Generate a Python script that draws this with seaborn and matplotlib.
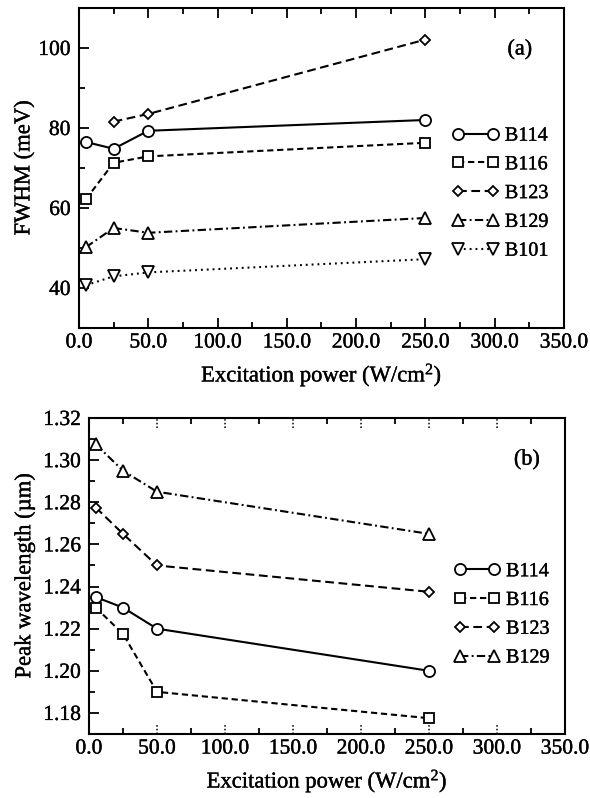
import numpy as np
import pandas as pd
import matplotlib
matplotlib.use("Agg")
import matplotlib.pyplot as plt
import matplotlib.transforms as mtransforms
import matplotlib.patheffects as pe
from matplotlib.ticker import MultipleLocator, FormatStrFormatter
import seaborn as sns

# ---- data ----
power = [5, 25, 50, 250]
power_b123_a = [25, 50, 250]

samples_a = ["B114", "B116", "B123", "B129", "B101"]
fwhm_b114 = [76.5, 74.8, 79.3, 82.0]
fwhm_b116 = [62.2, 71.3, 72.9, 76.3]
fwhm_b123 = [81.6, 83.5, 102.1]
fwhm_b129 = [50.2, 55.0, 53.8, 57.5]
fwhm_b101 = [40.7, 42.9, 43.9, 47.2]

samples_b = ["B114", "B116", "B123", "B129"]
peak_b114 = [1.235, 1.230, 1.220, 1.200]
peak_b116 = [1.230, 1.2175, 1.190, 1.1775]
peak_b123 = [1.2775, 1.265, 1.250, 1.2375]
peak_b129 = [1.3075, 1.295, 1.285, 1.265]

# ---- styles ----
markers = {"B114": "o", "B116": "s", "B123": "D", "B129": "^", "B101": "v"}
marker_sizes = {"B114": 8, "B116": 6.5, "B123": 4.6, "B129": 8, "B101": 8}
dashes = {"B114": "", "B116": (3.0, 1.8), "B123": (4.2, 2.2),
          "B129": (4.0, 1.6, 0.9, 1.6), "B101": (0.9, 1.9)}


def long_frame(series):
    rows = []
    for name, xs, ys in series:
        for x, y in zip(xs, ys):
            rows.append({"sample": name, "power": x, "value": y})
    return pd.DataFrame(rows)


df_a = long_frame([
    ("B114", power, fwhm_b114),
    ("B116", power, fwhm_b116),
    ("B123", power_b123_a, fwhm_b123),
    ("B129", power, fwhm_b129),
    ("B101", power, fwhm_b101),
])
df_b = long_frame([
    ("B114", power, peak_b114),
    ("B116", power, peak_b116),
    ("B123", power, peak_b123),
    ("B129", power, peak_b129),
])

sns.set_theme(style="ticks")
plt.rcParams["font.family"] = ["Liberation Serif", "DejaVu Serif"]
plt.rcParams["mathtext.fontset"] = "custom"
plt.rcParams["mathtext.rm"] = "Liberation Serif"
plt.rcParams["mathtext.it"] = "Liberation Serif:italic"
plt.rcParams["axes.linewidth"] = 1.5
plt.rcParams["axes.edgecolor"] = "black"
plt.rcParams["text.color"] = "black"
plt.rcParams["axes.labelcolor"] = "black"
plt.rcParams["xtick.color"] = "black"
plt.rcParams["ytick.color"] = "black"

FS_TICK = 15.5
FS_LABEL = 16.3
FS_LEG = 14.5
FS_PANEL = 16
LW = 1.5
fig = plt.figure(figsize=(5.9, 7.98), dpi=100)
ax_a = fig.add_axes([0.1339, 0.589, 0.822, 0.401])
ax_b = fig.add_axes([0.1508, 0.0802, 0.8068, 0.396])


def draw_panel(ax, df, order):
    sns.lineplot(data=df, x="power", y="value", style="sample",
                 style_order=order, markers={k: markers[k] for k in order},
                 dashes={k: dashes[k] for k in order}, estimator=None,
                 color="black", lw=LW, mfc="white", mec="black", mew=1.3,
                 legend=False, ax=ax)
    lines = ax.get_lines()[:len(order)]
    for line, name in zip(lines, order):
        line.set_markersize(marker_sizes[name])
    return lines


def style_axes(ax):
    ax.set_xlim(0, 350)
    ax.xaxis.set_major_locator(MultipleLocator(50))
    ax.xaxis.set_minor_locator(MultipleLocator(25))
    ax.xaxis.set_major_formatter(FormatStrFormatter("%.1f"))
    ax.tick_params(axis="both", which="both", direction="in",
                   labelsize=FS_TICK, width=1.3)
    ax.tick_params(axis="x", which="both", top=True, bottom=True)
    ax.tick_params(axis="y", which="both", left=True, right=False)
    ax.tick_params(which="major", length=7)
    ax.tick_params(which="minor", length=4.5)
    ax.tick_params(axis="x", which="major", pad=4)
    ax.tick_params(axis="y", which="major", pad=6)
    ax.set_xlabel(r"Excitation power (W/cm$^2$)", fontsize=FS_LABEL,
                  labelpad=6)


legend_kw = dict(loc="center left", frameon=False, numpoints=2,
                 fontsize=FS_LEG, handlelength=2.3, handletextpad=0.3,
                 labelspacing=0.48, borderpad=0, borderaxespad=0)

# ---- panel (a) ----
lines_a = draw_panel(ax_a, df_a, samples_a)
style_axes(ax_a)
ax_a.set_ylim(30, 110)
ax_a.yaxis.set_major_locator(MultipleLocator(20))
ax_a.yaxis.set_minor_locator(MultipleLocator(10))
ax_a.set_ylabel("FWHM (meV)", fontsize=FS_LABEL)
ax_a.yaxis.set_label_coords(-0.092, 0.5)
ax_a.text(0.909, 0.869, "(a)", transform=ax_a.transAxes, fontsize=FS_PANEL,
          ha="center", va="center")
ax_a.legend(lines_a, samples_a, bbox_to_anchor=(0.77, 0.42), **legend_kw)

# ---- panel (b) ----
lines_b = draw_panel(ax_b, df_b, samples_b)
style_axes(ax_b)
ax_b.set_ylim(1.17, 1.32)
ax_b.yaxis.set_major_locator(MultipleLocator(0.02))
ax_b.yaxis.set_minor_locator(MultipleLocator(0.01))
ax_b.yaxis.set_major_formatter(FormatStrFormatter("%.2f"))
ax_b.set_ylabel("Peak wavelength (\u00b5m)", fontsize=FS_LABEL)
ax_b.yaxis.set_label_coords(-0.113, 0.5)
ax_b.text(0.920, 0.867, "(b)", transform=ax_b.transAxes, fontsize=FS_PANEL,
          ha="center", va="center")
ax_b.legend(lines_b, samples_b, bbox_to_anchor=(0.766, 0.377), **legend_kw)

# major x ticks of panel (b) are drawn as short dotted marks
ax_b.tick_params(axis="x", which="major", length=0)
trans = mtransforms.blended_transform_factory(ax_b.transData, ax_b.transAxes)
tick_len = 0.032
for v in ax_b.get_xticks():
    if 0 < v <= 350:
        for y0, y1 in ((0, tick_len), (1 - tick_len, 1)):
            ax_b.plot([v, v], [y0, y1], transform=trans, color="black",
                      lw=1.1, ls=(0, (1, 1.4)), clip_on=False)

# slightly heavier glyph strokes for all text
for t in fig.findobj(matplotlib.text.Text):
    t.set_path_effects([pe.withStroke(linewidth=0.25, foreground="black")])

fig.savefig("out.png", dpi=100)
